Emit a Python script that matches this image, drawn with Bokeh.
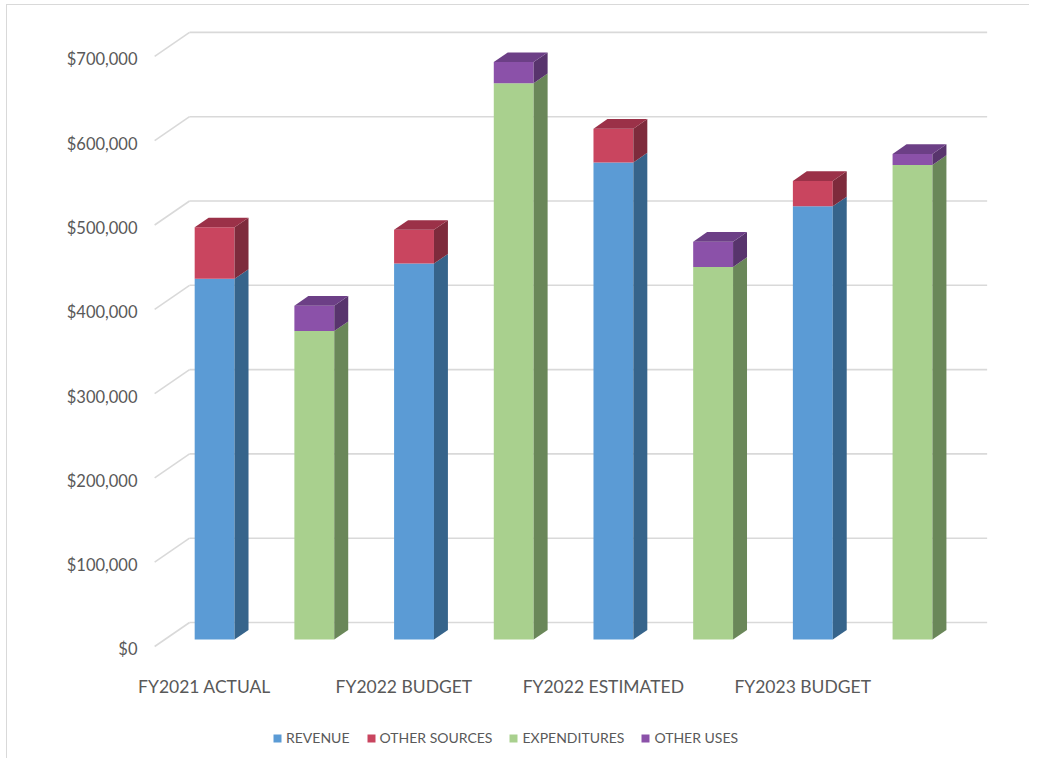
from bokeh.plotting import figure
from bokeh.models import FixedTicker, Legend, LegendItem, Range1d
from bokeh.embed import file_html
from bokeh.resources import INLINE

# ---- data ----
years = ["FY2021 ACTUAL", "FY2022 BUDGET", "FY2022 ESTIMATED", "FY2023 BUDGET"]
revenue = [428000, 446000, 566000, 514000]
other_sources = [61000, 40000, 40000, 30000]
expenditures = [366000, 660000, 442000, 563000]
other_uses = [30000, 25000, 30000, 13000]
y_ticks = [0, 100000, 200000, 300000, 400000, 500000, 600000, 700000]
y_tick_labels = ["$0", "$100,000", "$200,000", "$300,000", "$400,000",
                 "$500,000", "$600,000", "$700,000"]

# ---- 3D look (presentation constants) ----
DEPTH_X = 0.35      # floor depth, in slot units
DEPTH_Y = 28470     # floor depth, in value units
D0 = 0.29           # depth where bars start
BD = 0.40           # bar depth fraction
BAR_W = 0.40
LABEL_SHIFT = 3500  # nudges y labels down to sit on the floor's front edge

FONT = "Lato"
TXT = "#595959"
GRID = "#D9D9D9"

p = figure(frame_width=960, frame_height=740, output_backend="svg",
           toolbar_location=None,
           x_range=Range1d(-1.655, 7.9739), y_range=Range1d(-128114, 749703),
           min_border_left=32, min_border_right=30, min_border_top=9,
           min_border_bottom=4)
p.styles = {"margin-left": "6px", "margin-top": "4px",
            "border-top": "1px solid #D9D9D9", "border-left": "1px solid #D9D9D9"}
p.outline_line_color = None
p.xgrid.visible = False
p.ygrid.visible = False
p.background_fill_color = "white"
p.border_fill_color = "white"

# gridlines: diagonal on side wall + horizontal on back wall
left = -0.5
right = left + 8
p.segment(x0=[left] * len(y_ticks), y0=y_ticks,
          x1=[left + DEPTH_X] * len(y_ticks), y1=[v + DEPTH_Y for v in y_ticks],
          line_color=GRID, line_width=1.6)
p.segment(x0=[left + DEPTH_X] * len(y_ticks), y0=[v + DEPTH_Y for v in y_ticks],
          x1=[right + DEPTH_X] * len(y_ticks), y1=[v + DEPTH_Y for v in y_ticks],
          line_color=GRID, line_width=1.6)

ox = D0 * DEPTH_X
oy = D0 * DEPTH_Y
bdx = BD * DEPTH_X
bdy = BD * DEPTH_Y

def draw_stack(slots, bottom_vals, top_vals, cols_b, cols_t):
    rends = []
    for vals, base, cols in ((bottom_vals, [0] * len(bottom_vals), cols_b),
                             (top_vals, bottom_vals, cols_t)):
        xs = [s + ox for s in slots]
        b = [bb + oy for bb in base]
        t = [bb + v + oy for bb, v in zip(base, vals)]
        r = p.vbar(x=xs, width=BAR_W, bottom=b, top=t, fill_color=cols[0],
                   line_color=None)
        rends.append(r)
        sx, sy = [], []
        for x, y0, y1 in zip(xs, b, t):
            xr = x + BAR_W / 2
            sx.append([xr, xr + bdx, xr + bdx, xr])
            sy.append([y0, y0 + bdy, y1 + bdy, y1])
        p.patches(sx, sy, fill_color=cols[1], line_color=None)
    tx, ty = [], []
    for s, bb, v in zip(slots, bottom_vals, top_vals):
        x = s + ox
        T = bb + v + oy
        xl, xr = x - BAR_W / 2, x + BAR_W / 2
        tx.append([xl, xr, xr + bdx, xl + bdx])
        ty.append([T, T, T + bdy, T + bdy])
    p.patches(tx, ty, fill_color=cols_t[2], line_color=None)
    return rends

rev_slots = [2 * i for i in range(len(years))]
exp_slots = [2 * i + 1 for i in range(len(years))]

r_rev, r_os = draw_stack(rev_slots, revenue, other_sources,
                         ("#5B9BD5", "#36648B", "#4A7DB0"),
                         ("#C9455F", "#7E2B3C", "#9B3148"))
r_exp, r_ou = draw_stack(exp_slots, expenditures, other_uses,
                         ("#A9D08E", "#6A8759", "#8AAE72"),
                         ("#8B51A9", "#58346D", "#6C3F86"))

# axes
label_pos = [v - LABEL_SHIFT for v in y_ticks]
p.yaxis.fixed_location = -0.5517
p.yaxis.ticker = FixedTicker(ticks=label_pos)
p.yaxis.major_label_overrides = {pos: lab for pos, lab in zip(label_pos, y_tick_labels)}
p.yaxis.axis_line_color = None
p.yaxis.major_tick_line_color = None
p.yaxis.minor_tick_line_color = None
p.yaxis.major_label_standoff = 6
p.yaxis.major_label_text_font = FONT
p.yaxis.major_label_text_font_size = "16.5px"
p.yaxis.major_label_text_color = TXT

p.xaxis.fixed_location = -21352
p.xaxis.ticker = FixedTicker(ticks=rev_slots)
p.xaxis.major_label_overrides = {s: y for s, y in zip(rev_slots, years)}
p.xaxis.axis_line_color = None
p.xaxis.major_tick_line_color = None
p.xaxis.minor_tick_line_color = None
p.xaxis.major_label_standoff = 6
p.xaxis.major_label_text_font = FONT
p.xaxis.major_label_text_font_size = "17.5px"
p.xaxis.major_label_text_color = TXT

legend = Legend(items=[LegendItem(label="REVENUE", renderers=[r_rev]),
                       LegendItem(label="OTHER SOURCES", renderers=[r_os]),
                       LegendItem(label="EXPENDITURES", renderers=[r_exp]),
                       LegendItem(label="OTHER USES", renderers=[r_ou])],
                orientation="horizontal", location=(233, 8),
                glyph_width=10, glyph_height=10, label_standoff=4, spacing=16,
                padding=0, margin=0, border_line_color=None,
                background_fill_alpha=0,
                label_text_font=FONT, label_text_font_size="14px",
                label_text_color=TXT)
p.add_layout(legend, "center")

open("out.html", "w").write(file_html(p, INLINE))
